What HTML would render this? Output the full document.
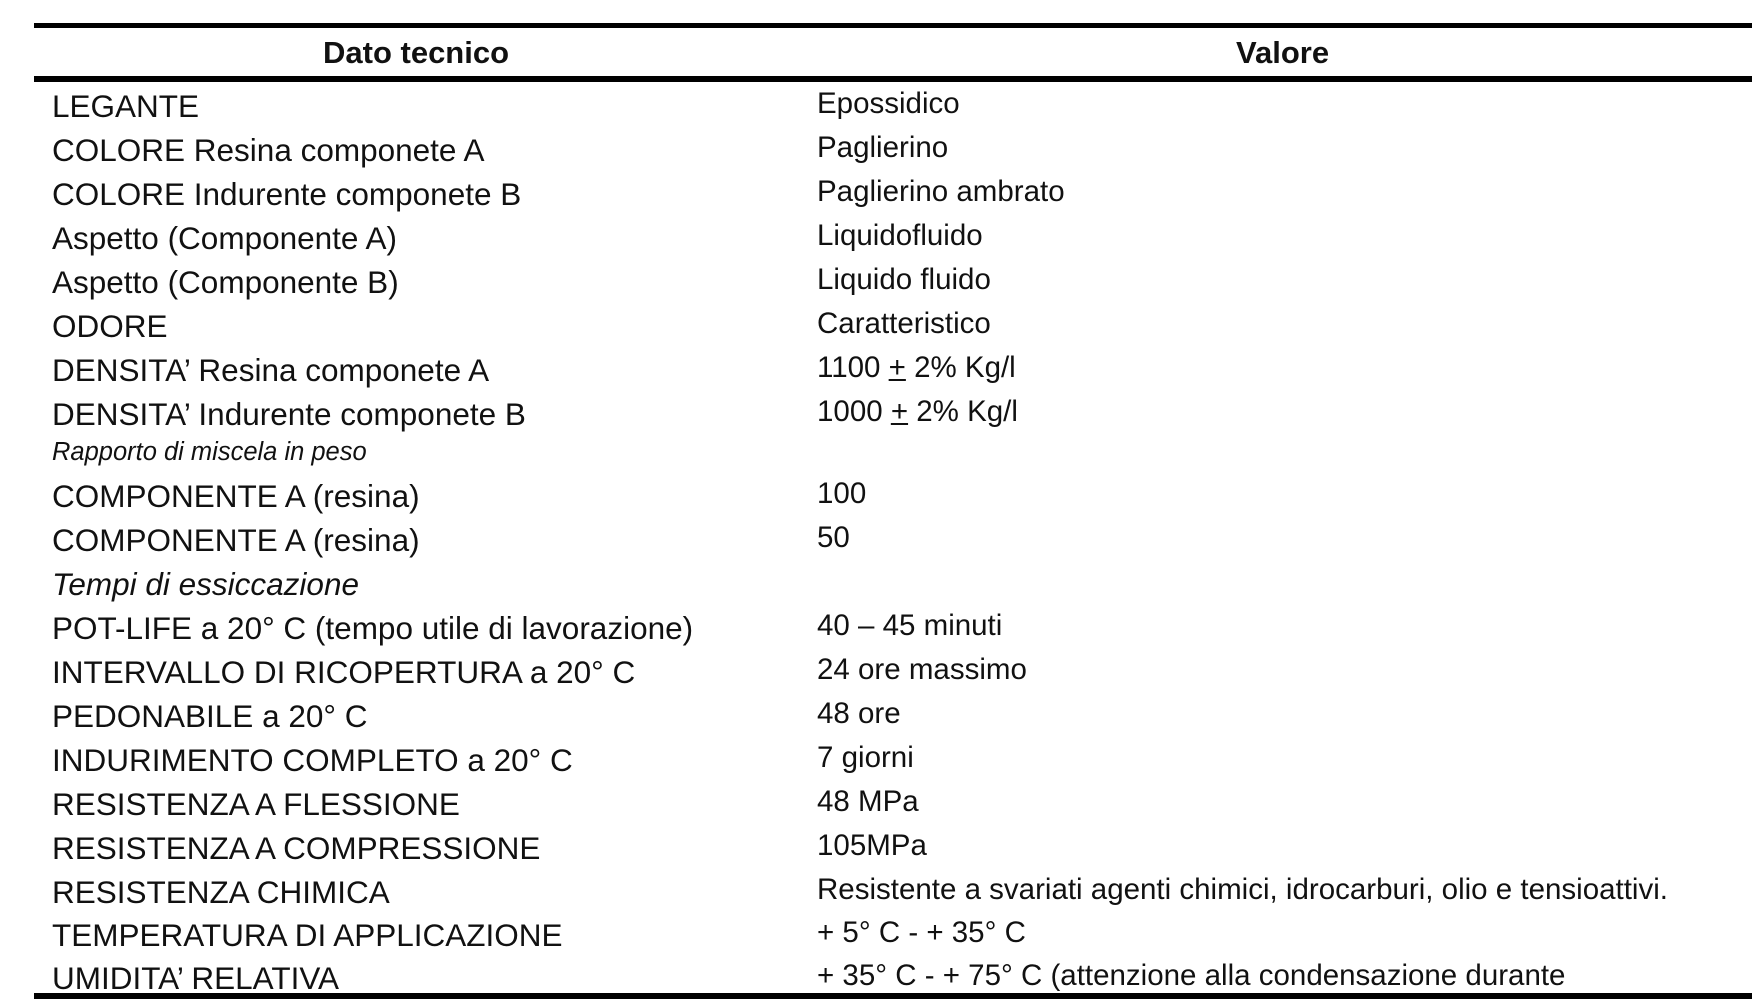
<!DOCTYPE html>
<html><head><meta charset="utf-8"><style>
body{margin:0;width:1762px;height:1000px;background:#fff;position:relative;overflow:hidden;font-family:"Liberation Sans",sans-serif;color:#111}
.l{position:absolute;left:34px;width:1718px;background:#000}
.t{position:absolute;height:44px;line-height:44px;white-space:nowrap}
.a{left:52px;font-size:31.5px}
.b{left:817px;font-size:29.5px}
.h{font-weight:bold;font-size:31px}
</style></head><body>
<div class="l" style="top:23px;height:5px"></div>
<div class="l" style="top:76px;height:6px"></div>
<div class="l" style="top:993px;height:6px"></div>
<div class="t h" style="top:31px;left:323px">Dato tecnico</div>
<div class="t h" style="top:31px;left:1236px">Valore</div>

<div class="t a" style="top:84px">LEGANTE</div><div class="t b" style="top:82px">Epossidico</div>
<div class="t a" style="top:128px">COLORE Resina componete A</div><div class="t b" style="top:126px">Paglierino</div>
<div class="t a" style="top:172px">COLORE Indurente componete B</div><div class="t b" style="top:170px">Paglierino ambrato</div>
<div class="t a" style="top:216px">Aspetto (Componente A)</div><div class="t b" style="top:214px">Liquidofluido</div>
<div class="t a" style="top:260px">Aspetto (Componente B)</div><div class="t b" style="top:258px">Liquido fluido</div>
<div class="t a" style="top:304px">ODORE</div><div class="t b" style="top:302px">Caratteristico</div>
<div class="t a" style="top:348px">DENSITA’ Resina componete A</div><div class="t b" style="top:346px">1100 <u>+</u> 2% Kg/l</div>
<div class="t a" style="top:392px">DENSITA’ Indurente componete B</div><div class="t b" style="top:390px">1000 <u>+</u> 2% Kg/l</div>
<div class="t a" style="top:430px;font-size:25.5px;font-style:italic">Rapporto di miscela in peso</div>
<div class="t a" style="top:474px">COMPONENTE A (resina)</div><div class="t b" style="top:472px">100</div>
<div class="t a" style="top:518px">COMPONENTE A (resina)</div><div class="t b" style="top:516px">50</div>
<div class="t a" style="top:562px;font-style:italic">Tempi di essiccazione</div>
<div class="t a" style="top:606px">POT-LIFE a 20° C (tempo utile di lavorazione)</div><div class="t b" style="top:604px">40 – 45 minuti</div>
<div class="t a" style="top:650px">INTERVALLO DI RICOPERTURA a 20° C</div><div class="t b" style="top:648px">24 ore massimo</div>
<div class="t a" style="top:694px">PEDONABILE a 20° C</div><div class="t b" style="top:692px">48 ore</div>
<div class="t a" style="top:738px">INDURIMENTO COMPLETO a 20° C</div><div class="t b" style="top:736px">7 giorni</div>
<div class="t a" style="top:782px">RESISTENZA A FLESSIONE</div><div class="t b" style="top:780px">48 MPa</div>
<div class="t a" style="top:826px">RESISTENZA A COMPRESSIONE</div><div class="t b" style="top:824px">105MPa</div>
<div class="t a" style="top:870px">RESISTENZA CHIMICA</div><div class="t b" style="top:868px">Resistente a svariati agenti chimici, idrocarburi, olio e tensioattivi.</div>
<div class="t a" style="top:913px">TEMPERATURA DI APPLICAZIONE</div><div class="t b" style="top:911px">+ 5° C - + 35° C</div>
<div class="t a" style="top:956px">UMIDITA’ RELATIVA</div><div class="t b" style="top:954px">+ 35° C - + 75° C (attenzione alla condensazione durante</div>
</body></html>
